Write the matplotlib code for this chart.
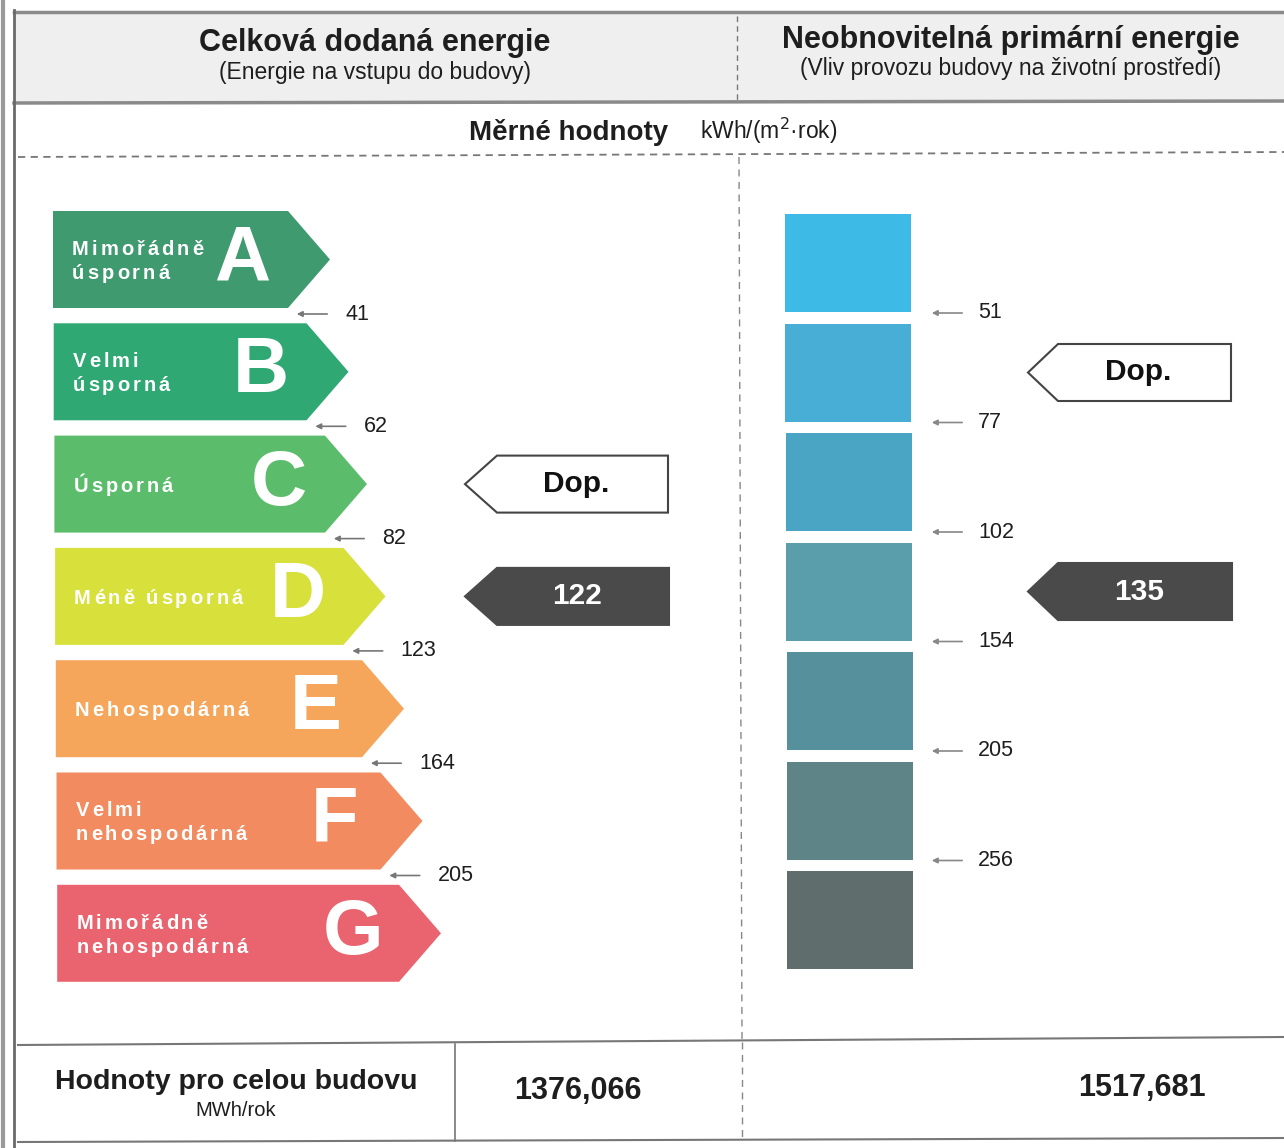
import numpy as np
import matplotlib.pyplot as plt
from matplotlib.patches import Polygon, Rectangle

plt.rcParams['font.family'] = ['Liberation Sans', 'DejaVu Sans']

# data
classes = ['A', 'B', 'C', 'D', 'E', 'F', 'G']
class_names = ['Mimořádně\núsporná', 'Velmi\núsporná', 'Úsporná', 'Méně úsporná',
               'Nehospodárná', 'Velmi\nnehospodárná', 'Mimořádně\nnehospodárná']
class_colors = ['#3f9a70', '#2fa874', '#5bbd6c', '#d8e03c', '#f5a65a', '#f28b5f', '#e9646f']
bar_colors = ['#3dbbe6', '#48aed6', '#4aa5c5', '#5a9dab', '#56909d', '#5e8488', '#5f6d6d']
delivered_limits = [41, 62, 82, 123, 164, 205]
primary_limits = [51, 77, 102, 154, 205, 256]
delivered_value = 122
primary_value = 135
delivered_ref = 'C'   # Dop.
primary_ref = 'B'
total_delivered = 1376.066
total_primary = 1517.681


def fmt(v):
    return f'{v:.3f}'.replace('.', ',')


def pointer(ax, tip, body, right, yc, h, face, edge, text, tcolor):
    pts = [(tip, yc), (body, yc - h / 2), (right, yc - h / 2), (right, yc + h / 2), (body, yc + h / 2)]
    ax.add_patch(Polygon(pts, closed=True, fc=face, ec=edge, lw=1.5))
    ax.text((body + right) / 2 - 6, yc, text, ha='center', va='center', fontsize=21.5,
            fontweight='bold', color=tcolor)


def spaced_text(ax, x, y, s, track, renderer, **kw):
    # letter spaced text, one char at a time (axes is 1 unit = 1 px)
    lines = s.split('\n')
    dy = 24
    y_first = y - dy * (len(lines) - 1) / 2
    for k, line in enumerate(lines):
        xc = x
        for ch in line:
            t = ax.text(xc, y_first + k * dy, ch, ha='left', va='center', **kw)
            w = t.get_window_extent(renderer).width if ch != ' ' else 5
            xc += w + track


fig = plt.figure(figsize=(12.84, 11.48), dpi=100)
ax = fig.add_axes([0, 0, 1, 1])
ax.set_xlim(0, 1284)
ax.set_ylim(1148, 0)
ax.axis('off')
renderer = fig.canvas.get_renderer()

# frame and header
ax.add_patch(Rectangle((14, 12), 1270, 91, fc='#efefef', ec='none'))
ax.plot([14, 1284], [12, 12], color='#8a8a8a', lw=2.5)
ax.plot([14, 1284], [103, 101], color='#8a8a8a', lw=2.5)
ax.plot([3, 3], [0, 1148], color='#9a9a9a', lw=3)
ax.plot([14, 14], [10, 1148], color='#6a6a6a', lw=2)
ax.plot([737, 737], [16, 100], color='#777777', lw=1, ls=(0, (4, 3)))
ax.text(375, 43, 'Celková dodaná energie', ha='center', va='center', fontsize=22, fontweight='bold', color='#1e1e1e')
ax.text(375, 72, '(Energie na vstupu do budovy)', ha='center', va='center', fontsize=16.5, color='#1e1e1e')
ax.text(1011, 40, 'Neobnovitelná primární energie', ha='center', va='center', fontsize=22, fontweight='bold', color='#1e1e1e')
ax.text(1011, 69, '(Vliv provozu budovy na životní prostředí)', ha='center', va='center', fontsize=16.5, color='#1e1e1e')

ax.text(668, 133, 'Měrné hodnoty', ha='right', va='center', fontsize=20, fontweight='bold', color='#1e1e1e')
ax.text(700, 131, 'kWh/(m$^2$·rok)', ha='left', va='center', fontsize=16.5, color='#1e1e1e')
ax.plot([18, 1284], [157, 152], color='#777777', lw=1.3, ls=(0, (4, 3)))
ax.plot([739, 742], [157, 1040], color='#888888', lw=1, ls=(0, (5, 4)))

# left scale: delivered energy classes
top, step, h, head = 211, 112.3, 97, 42
for i, (c, name, col) in enumerate(zip(classes, class_names, class_colors)):
    y0 = top + i * step
    tip = 330 + i * 18.5
    x0 = 53 + i * 0.7
    pts = [(x0, y0), (tip - head, y0), (tip, y0 + h / 2), (tip - head, y0 + h), (x0, y0 + h)]
    ax.add_patch(Polygon(pts, closed=True, fc=col, ec='none'))
    spaced_text(ax, x0 + 19, y0 + h / 2 + 2, name, 3.0, renderer, fontsize=14.5,
                fontweight='bold', color='white')
    ax.text(tip - 88, y0 + h / 2, c, ha='center', va='center', fontsize=56,
            fontweight='bold', color='white')
    if i < len(delivered_limits):
        yb = y0 + h + 6
        ax.annotate('', xy=(tip - 36, yb), xytext=(tip, yb),
                    arrowprops=dict(arrowstyle='-|>', color='#777777', lw=1.2, mutation_scale=8))
        ax.text(tip + 15, yb, str(delivered_limits[i]), ha='left', va='center', fontsize=15.5, color='#1e1e1e')

ref_i = classes.index(delivered_ref)
val_i = int(np.searchsorted(delivered_limits, delivered_value))
pointer(ax, 465, 497, 668, top + ref_i * step + h / 2, 57, 'white', '#444444', 'Dop.', '#111111')
pointer(ax, 465, 497, 669, top + val_i * step + h / 2, 57, '#4a4a4a', '#4a4a4a', str(delivered_value), 'white')

# right scale: primary energy
rtop, rstep, rh = 214, 109.5, 98
for i, col in enumerate(bar_colors):
    y0 = rtop + i * rstep
    ax.add_patch(Rectangle((785 + i * 0.4, y0), 126, rh, fc=col, ec='none'))
    if i < len(primary_limits):
        yb = y0 + rh + 1
        ax.annotate('', xy=(929, yb), xytext=(965, yb),
                    arrowprops=dict(arrowstyle='-|>', color='#888888', lw=1.2, mutation_scale=8))
        ax.text(978, yb, str(primary_limits[i]), ha='left', va='center', fontsize=15.5, color='#1e1e1e')

ref_j = classes.index(primary_ref)
val_j = int(np.searchsorted(primary_limits, primary_value))
pointer(ax, 1028, 1058, 1231, rtop + ref_j * rstep + rh / 2, 57, 'white', '#444444', 'Dop.', '#111111')
pointer(ax, 1028, 1058, 1232, rtop + val_j * rstep + rh / 2, 57, '#4a4a4a', '#4a4a4a', str(primary_value), 'white')

# bottom totals
ax.plot([18, 1284], [1045, 1037], color='#777777', lw=1.5)
ax.plot([18, 1284], [1142, 1138], color='#777777', lw=1.5)
ax.plot([455, 455], [1044, 1141], color='#777777', lw=1.2)
ax.plot([742, 742], [1042, 1140], color='#888888', lw=1, ls=(0, (5, 4)))
ax.text(236, 1082, 'Hodnoty pro celou budovu', ha='center', va='center', fontsize=20.5, fontweight='bold', color='#1e1e1e')
ax.text(236, 1110, 'MWh/rok', ha='center', va='center', fontsize=14.5, color='#1e1e1e')
ax.text(578, 1091, fmt(total_delivered), ha='center', va='center', fontsize=22, fontweight='bold', color='#1e1e1e')
ax.text(1142, 1088, fmt(total_primary), ha='center', va='center', fontsize=22, fontweight='bold', color='#1e1e1e')

fig.savefig('out.png', dpi=100, facecolor='white')
